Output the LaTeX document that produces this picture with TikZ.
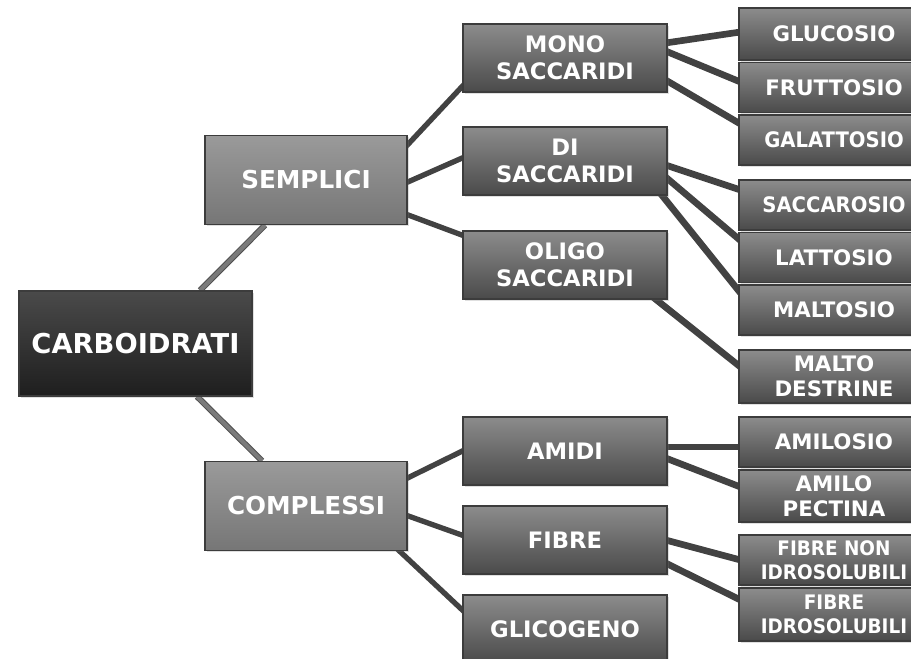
\documentclass[tikz,border=0pt]{standalone}
\usepackage{fontspec}
\setmainfont{DejaVu Sans}
\newfontfamily\narrowfont{DejaVu Sans}[FakeStretch=0.92]
\usepackage{tikz}
\usepackage{xcolor}
\usetikzlibrary{positioning,calc,backgrounds,shadows}
\definecolor{roottop}{HTML}{4A4A4A}
\definecolor{rootmid}{HTML}{333333}
\definecolor{rootbot}{HTML}{1E1E1E}
\definecolor{grouptop}{HTML}{9A9A9A}
\definecolor{groupmid}{HTML}{858585}
\definecolor{groupbot}{HTML}{767676}
\definecolor{boxtop}{HTML}{8C8C8C}
\definecolor{boxmid}{HTML}{5E5E5E}
\definecolor{boxbot}{HTML}{4A4A4A}
\definecolor{boxline}{HTML}{3C3C3C}
\definecolor{trunkgray}{HTML}{7A7A7A}
\definecolor{trunkedge}{HTML}{505050}
\definecolor{linkgray}{HTML}{424242}

\begin{document}
\begin{tikzpicture}[x=0.75pt,y=0.75pt,yscale=-1,xscale=1,
	box/.style={draw=boxline, line width=0.8pt, inner sep=0pt, align=center, text=white,
		drop shadow={shadow xshift=1.2pt, shadow yshift=-1.2pt, opacity=0.25}},
	rootbox/.style={box, top color=roottop, middle color=rootmid, bottom color=rootbot,
		minimum width=174.75pt, minimum height=78.75pt, font=\fontsize{20.5}{24}\selectfont\bfseries},
	groupbox/.style={box, top color=grouptop, middle color=groupmid, bottom color=groupbot,
		minimum width=151.5pt, minimum height=67pt, font=\fontsize{18.5}{22}\selectfont\bfseries},
	typebox/.style={box, top color=boxtop, middle color=boxmid, bottom color=boxbot,
		minimum width=153pt, minimum height=51pt, font=\fontsize{17}{20}\selectfont\bfseries},
	leafbox/.style={box, top color=boxtop, middle color=boxmid, bottom color=boxbot,
		minimum width=142.5pt, minimum height=37.5pt, font=\fontsize{16}{19}\selectfont\bfseries},
	narrow/.style={font=\narrowfont\bfseries\fontsize{16}{19}\selectfont},
	fibretext/.style={font=\narrowfont\bfseries\fontsize{15}{18}\selectfont},
	trunk/.style={line width=3pt, draw=trunkgray, preaction={draw=trunkedge, line width=4.5pt}},
	branch/.style={line width=4pt, draw=linkgray},
	twig/.style={line width=5pt, draw=linkgray}
	]
			\useasboundingbox (0,0) rectangle (911,659);
			\clip (0,0) rectangle (911,659);
	
			% Root
			\node[rootbox] (carbo) at (135.5,343.5) {CARBOIDRATI};
			% Groups
			\node[groupbox] (sem) at (306,180) {SEMPLICI};
			\node[groupbox] (com) at (306,506) {COMPLESSI};
			% Types
			\node[typebox] (mono) at (565,58) {MONO\\SACCARIDI};
			\node[typebox] (di) at (565,161) {DI\\SACCARIDI};
			\node[typebox] (oligo) at (565,265) {OLIGO\\SACCARIDI};
			\node[typebox] (amidi) at (565,451) {AMIDI};
			\node[typebox] (fibre) at (565,540) {FIBRE};
			\node[typebox] (glico) at (565,629) {GLICOGENO};
			% Leaves
			\node[leafbox, minimum height=39pt] (gluc) at (834,34) {GLUCOSIO};
			\node[leafbox] (frut) at (834,87.5) {FRUTTOSIO};
			\node[leafbox, narrow] (gala) at (834,140) {GALATTOSIO};
			\node[leafbox, narrow] (sacc) at (834,205) {SACCAROSIO};
			\node[leafbox] (latt) at (834,257.5) {LATTOSIO};
			\node[leafbox] (malt) at (834,310) {MALTOSIO};
			\node[leafbox, minimum height=39.75pt] (destr) at (834,376.5) {MALTO\\DESTRINE};
			\node[leafbox] (amilo) at (834,442) {AMILOSIO};
			\node[leafbox, minimum height=39pt] (pect) at (834,496) {AMILO\\PECTINA};
			\node[leafbox, fibretext, minimum height=37.5pt] (fnon) at (834,560) {FIBRE NON\\IDROSOLUBILI};
			\node[leafbox, fibretext, minimum height=39.75pt] (fidro) at (834,614.5) {FIBRE\\IDROSOLUBILI};
	
			\begin{scope}[on background layer]
			% Connection
			\draw[trunk] ($(carbo.north)+(64.5,0)$) -- ($(sem.south)+(-41,0)$);
			% Connection
			\draw[trunk] ($(carbo.south)+(61.5,0)$) -- ($(com.north)+(-44,0)$);
			% Connections from the groups
			\foreach \s/\ds/\t/\dt in {sem/-33/mono/26, sem/3/di/-4, sem/34/oligo/-29,
				com/-27/amidi/-1, com/9/fibre/-4}
				\draw[branch] ($(\s.east)+(-2,\ds)$) -- ($(\t.west)+(2,\dt)$);
			% Connection
			\draw[branch] ($(com.south east)+(-10,-2)$) -- ($(glico.west)+(2,-17)$);
			% Connections to the leaves
			\foreach \s/\ds/\t/\dt in {mono/-15/gluc/-2, mono/-7/frut/-5.5, mono/22/gala/-16,
				di/4/sacc/-15, di/16/latt/-17, amidi/-4/amilo/5, amidi/7/pect/-9,
				fibre/0/fnon/0, fibre/23/fidro/-14.5}
				\draw[twig] ($(\s.east)+(-2,\ds)$) -- ($(\t.west)+(2,\dt)$);
			% Connection
			\draw[twig] ($(di.south east)+(-7,-2)$) -- ($(malt.west)+(2,-17)$);
			% Connection
			\draw[twig] ($(oligo.south east)+(-14,-2)$) -- ($(destr.west)+(2,-9.5)$);
			\end{scope}
\end{tikzpicture}
\end{document}
